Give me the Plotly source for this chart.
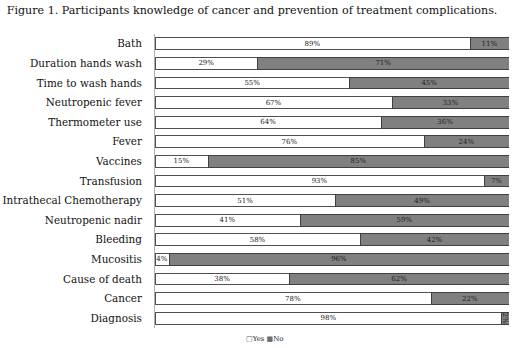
import plotly.graph_objects as go

categories = ["Bath", "Duration hands wash", "Time to wash hands", "Neutropenic fever",
              "Thermometer use", "Fever", "Vaccines", "Transfusion", "Intrathecal Chemotherapy",
              "Neutropenic nadir", "Bleeding", "Mucositis", "Cause of death", "Cancer", "Diagnosis"]
yes_vals = [89, 29, 55, 67, 64, 76, 15, 93, 51, 41, 58, 4, 38, 78, 98]
no_vals = [11, 71, 45, 33, 36, 24, 85, 7, 49, 59, 42, 96, 62, 22, 2]
series_names = ["Yes", "No"]

font_family = "DejaVu Serif, Georgia, serif"

fig = go.Figure()
fig.add_trace(go.Bar(
    y=categories, x=yes_vals, name=series_names[0], orientation="h",
    marker=dict(color="#ffffff", line=dict(color="#505050", width=1)),
    text=[f"{v}%" for v in yes_vals], textposition="inside", insidetextanchor="middle",
    textfont=dict(size=7, color="#222222", family=font_family),
    width=0.6, showlegend=False,
))
fig.add_trace(go.Bar(
    y=categories, x=no_vals, name=series_names[1], orientation="h",
    marker=dict(color="#808080", line=dict(color="#404040", width=1)),
    text=[f"{v}%" for v in no_vals], textposition="inside", insidetextanchor="middle",
    textfont=dict(size=7, color="#222222", family=font_family),
    width=0.6, showlegend=False,
))

fig.add_annotation(
    x=0.31, y=-0.037, xref="paper", yref="paper", xanchor="center", yanchor="middle",
    showarrow=False,
    text=f"<span style='color:#555555'>□</span>{series_names[0]} "
         f"<span style='color:#707070'>■</span>{series_names[1]}",
    font=dict(size=7, family=font_family, color="#222222"),
)

fig.update_layout(
    barmode="stack",
    width=520, height=348,
    margin=dict(l=155, r=11, t=34, b=20),
    paper_bgcolor="white", plot_bgcolor="white",
    font=dict(family=font_family, color="#222222"),
    title=dict(text="Figure 1. Participants knowledge of cancer and prevention of treatment complications.",
               x=0.013, xanchor="left", y=0.971, yanchor="middle",
               font=dict(size=11.1, family=font_family, color="#111111")),
    showlegend=False,
    uniformtext=dict(minsize=6, mode="show"),
)
fig.update_xaxes(range=[0, 100], showticklabels=False, showgrid=False, zeroline=False)
fig.update_yaxes(autorange="reversed", showgrid=False, ticks="", ticklabelstandoff=10,
                 automargin=False,
                 tickfont=dict(size=10.4, family=font_family, color="#111111"),
                 showline=True, linecolor="#b0b0b0", linewidth=1)

fig.write_html("out.html", config={"displayModeBar": False},
               post_script="document.body.style.margin='0';")
